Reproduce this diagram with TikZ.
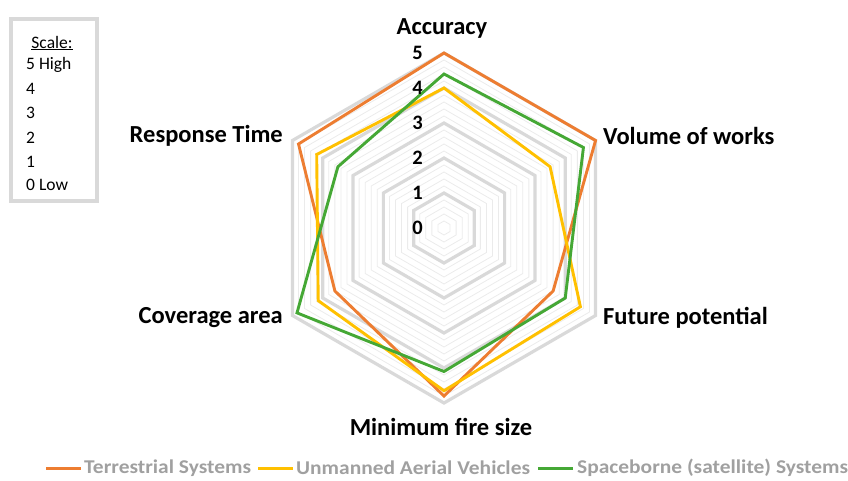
\documentclass[tikz,border=0pt]{standalone}
\usepackage{fontspec}
\setmainfont{Carlito}
\newfontfamily\legendfont[FakeStretch=1.1]{Carlito}
\definecolor{terr}{HTML}{ED7D31}
\definecolor{uav}{HTML}{FFC000}
\definecolor{sat}{HTML}{45A835}
\definecolor{gridmajor}{HTML}{D9D9D9}
\definecolor{gridminor}{HTML}{EBEBEB}
\definecolor{legendtext}{HTML}{A0A0A0}
\newcommand\hexring[1]{(90:#1) -- (30:#1) -- (-30:#1) -- (-90:#1) -- (-150:#1) -- (150:#1) -- cycle}
\newcommand\radarline[7]{\draw[#1] (90:#2*35) -- (30:#3*35) -- (-30:#4*35) -- (-90:#5*35) -- (-150:#6*35) -- (150:#7*35) -- cycle;}
\tikzset{
  minorgrid/.style={draw=gridminor, line width=0.8pt},
  majorgrid/.style={draw=gridmajor, line width=3.2pt, line join=miter},
  serie/.style={line width=2.9pt, line join=miter},
  catlabel/.style={font=\fontsize{24.5}{28}\selectfont\bfseries, inner sep=0pt},
  levellabel/.style={font=\fontsize{20.5}{23}\selectfont\bfseries, inner sep=0pt, anchor=east},
  scaletext/.style={font=\fontsize{17.5}{20}\selectfont, inner sep=0pt, anchor=west},
  legendtext/.style={font=\legendfont\fontsize{19.5}{22}\selectfont\bfseries, text=legendtext, inner sep=0pt, anchor=west},
  legendline/.style={line width=3pt},
}
\begin{document}
\begin{tikzpicture}[x=1pt, y=1pt]
\useasboundingbox (0,0) rectangle (848,480);
\begin{scope}[shift={(444,252)}]
  % light rings every 0.2
  \foreach \r in {0.2,0.4,0.6,0.8,1.2,1.4,1.6,1.8,2.2,2.4,2.6,2.8,3.2,3.4,3.6,3.8,4.2,4.4,4.6,4.8}
    \draw[minorgrid] \hexring{\r*35};
  % main rings
  \foreach \r in {1,2,3,4,5}
    \draw[majorgrid] \hexring{\r*35};
  % series
  \radarline{serie, terr}{5}{5}{3.6}{4.8}{3.6}{4.8}
  \radarline{serie, uav}{4}{3.5}{4.5}{4.65}{4.15}{4.2}
  \radarline{serie, sat}{4.4}{4.6}{4.0}{4.1}{4.85}{3.5}
  % level labels
  \foreach \k in {0,...,5}
    \node[levellabel] (lev\k) at (-21,35*\k) {\k};
\end{scope}
% category labels
\node[catlabel] (acc) at (442,452) {Accuracy};
\node[catlabel, anchor=west] (vol) at (603,344) {Volume of works};
\node[catlabel, anchor=west] (fut) at (603,162) {Future potential};
\node[catlabel] (minf) at (441,53) {Minimum fire size};
\node[catlabel, anchor=east] (cov) at (283,162) {Coverage area};
\node[catlabel, anchor=east] (resp) at (283,344) {Response Time};
% scale box
\draw[draw=gridmajor, line width=3.5pt] (11,461) rectangle (97,279);
\node[font=\fontsize{17.5}{20}\selectfont, inner sep=0pt] (scalehead) at (52,437) {\underline{Scale:}};
\node[scaletext] (s5) at (26,415) {5 High};
\node[scaletext] (s4) at (26,391) {4};
\node[scaletext] (s3) at (26,367) {3};
\node[scaletext] (s2) at (26,342) {2};
\node[scaletext] (s1) at (26,318) {1};
\node[scaletext] (s0) at (26,295) {0 Low};
% legend
\coordinate (la1) at (46,12); \coordinate (lb1) at (81,12);
\coordinate (la2) at (258,12); \coordinate (lb2) at (293,12);
\coordinate (la3) at (538,12); \coordinate (lb3) at (573,12);
\draw[legendline, terr] (la1) -- (lb1);
\draw[legendline, uav] (la2) -- (lb2);
\draw[legendline, sat] (la3) -- (lb3);
\node[legendtext] (lg1) at (84,12) {Terrestrial Systems};
\node[legendtext] (lg2) at (296,12) {Unmanned Aerial Vehicles};
\node[legendtext] (lg3) at (577,12) {Spaceborne (satellite) Systems};
\end{tikzpicture}
\end{document}
